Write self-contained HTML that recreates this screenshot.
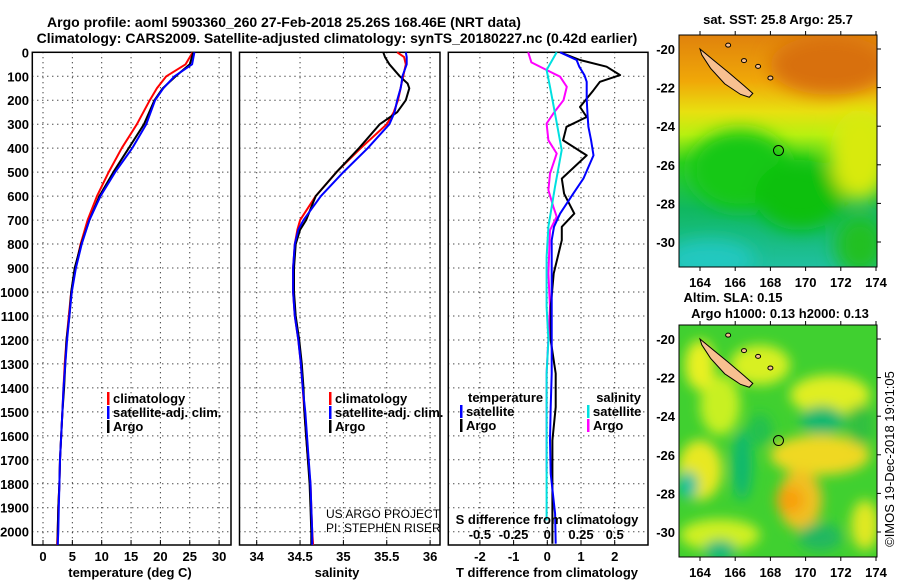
<!DOCTYPE html>
<html><head><meta charset="utf-8"><style>
html,body{margin:0;padding:0;background:#fff;}
svg{display:block;font-family:"Liberation Sans",Arial,sans-serif;}
.t{font-weight:bold;font-size:13px;fill:#000;}
</style></head><body>
<svg id="chart" width="900" height="580" viewBox="0 0 900 580" xmlns="http://www.w3.org/2000/svg">
<defs>
<filter id="blur8" x="-50%" y="-50%" width="200%" height="200%"><feGaussianBlur stdDeviation="9"/></filter>
<filter id="blur5" x="-50%" y="-50%" width="200%" height="200%"><feGaussianBlur stdDeviation="6"/></filter>
<clipPath id="clipTop"><rect x="679" y="35" width="198" height="232"/></clipPath>
<clipPath id="clipBot"><rect x="679" y="325" width="198" height="232"/></clipPath>
<linearGradient id="sstGrad" x1="0" y1="0" x2="0" y2="1">
<stop offset="0" stop-color="#e0820c"/><stop offset="0.2" stop-color="#f0a808"/><stop offset="0.33" stop-color="#e8e010"/><stop offset="0.43" stop-color="#b8f010"/><stop offset="0.55" stop-color="#30d020"/><stop offset="0.75" stop-color="#10b860"/><stop offset="1" stop-color="#20c0a0"/>
</linearGradient>
</defs>
<g id="titles">
<text x="284" y="27" text-anchor="middle" style="font-weight:bold;font-size:14px">Argo profile: aoml 5903360_260 27-Feb-2018 25.26S 168.46E (NRT data)</text>
<text x="337" y="43" text-anchor="middle" style="font-weight:bold;font-size:14px">Climatology: CARS2009. Satellite-adjusted climatology: synTS_20180227.nc (0.42d earlier)</text>
</g>
<g id="plots"></g>
<g id="maps"></g>
</svg>
<script>
// ---------- data ----------
const depthsT = [0,50,100,150,200,300,400,500,600,700,800,900,1000,1100,1200,1300,1400,1500,1600,1700,1800,1900,2000,2055];
const tempClim = [25.5,24.3,21.0,19.4,18.2,16.0,13.4,11.2,9.2,7.6,6.4,5.5,4.8,4.4,4.0,3.7,3.5,3.3,3.1,2.9,2.8,2.6,2.5,2.4];
const tempSat  = [25.8,25.4,22.4,20.5,19.1,17.6,15.2,12.3,9.8,7.9,6.6,5.6,4.9,4.5,4.1,3.8,3.5,3.3,3.1,2.9,2.8,2.7,2.6,2.5];
const tempArgo = [25.6,25.0,22.6,20.4,19.0,17.2,14.6,12.0,9.6,7.9,6.5,5.4,4.8,4.5,4.0,3.8,3.6,3.3,3.1,2.9,2.8,2.6,2.5,2.5];

const depthsS = [0,20,50,100,130,150,200,250,300,400,500,600,700,740,800,900,1000,1100,1200,1300,1400,1500,1600,1700,1800,1900,2000,2055];
const salClim = [35.62,35.70,35.72,35.69,35.67,35.66,35.63,35.58,35.50,35.20,34.92,34.68,34.50,34.47,34.44,34.42,34.42,34.44,34.48,34.51,34.53,34.55,34.57,34.59,34.62,34.63,34.64,34.65];
const salSat  = [35.72,35.73,35.73,35.68,35.67,35.66,35.62,35.59,35.53,35.28,35.00,34.74,34.54,34.48,34.44,34.42,34.42,34.44,34.48,34.51,34.53,34.56,34.58,34.60,34.62,34.63,34.64,34.64];
const salArgo = [35.46,35.48,35.53,35.65,35.74,35.76,35.72,35.62,35.42,35.18,34.92,34.68,34.57,34.50,34.45,34.43,34.43,34.45,34.49,34.52,34.54,34.55,34.57,34.59,34.61,34.62,34.63,34.63];

const diffDepths = [0,32,60,95,123,158,193,228,270,311,367,430,527,590,673,728,784,923,1062,1201,1340,1480,1619,1758,1925,2050];
const dTempArgo  = [0.38,0.97,1.76,2.16,1.56,1.37,1.17,0.97,1.17,0.57,0.47,1.17,0.43,0.5,0.8,0.43,0.43,0.19,0.1,0.1,0.25,0.25,0.15,0.15,0.15,0.15];
const dTempSat   = [0.38,0.87,0.95,1.1,1.17,1.17,1.17,1.18,1.2,1.22,1.3,1.37,1.07,0.77,0.38,0.2,0.13,0.13,0.13,0.13,0.13,0.1,0.08,0.1,0.23,0.25];
const sDiffDepths = [0,74,144,255,408,561,728,853,1062,1201,1340,1758,1953];
const dSalSat = [0.07,-0.005,0.02,0.057,0.107,0.057,0.008,-0.005,-0.005,0.008,-0.005,-0.005,-0.005];
const sArgoDepths = [0,42,74,102,144,200,255,297,367,422,506,575,645,686,742,923,1062,1340,1480,1619,1750];
const dSalArgo = [-0.142,-0.118,-0.005,0.095,0.145,0.12,0.045,-0.005,0.008,0.07,0.02,0.008,0.045,0.07,0.02,0.008,0.02,-0.005,-0.005,-0.005,-0.005];

const depthTicks = [0,100,200,300,400,500,600,700,800,900,1000,1100,1200,1300,1400,1500,1600,1700,1800,1900,2000];
const tempTicks = [0,5,10,15,20,25,30];
const salTicks = [34,34.5,35,35.5,36];
const salTickLabels = ['34','34.5','35','35.5','36'];
const tdTicks = [-2,-1,0,1,2];
const sdTicks = [-0.5,-0.25,0,0.25,0.5];
const sdTickLabels = ['-0.5','-0.25','0','0.25','0.5'];
const lonTicks = [164,166,168,170,172,174];
const latTicks = [-20,-22,-24,-26,-28,-30];

// ---------- helpers ----------
const NS='http://www.w3.org/2000/svg';
function mk(tag, attrs, parent){const e=document.createElementNS(NS,tag);for(const k in attrs)e.setAttribute(k,attrs[k]);parent.appendChild(e);return e;}
const plots=document.getElementById('plots');
const Y0=52.3, YS=0.2397, YB=545;
const yD = d => Y0 + d*YS;

function panel(name,x0,x1,xf,xticks,xlabels,showDepthLabels){
  const g=mk('g',{},plots);
  
  
  xticks.forEach(v=>{const l=mk('line',{x1:xf(v),x2:xf(v),y1:Y0,y2:YB,stroke:'#000','stroke-width':1,'stroke-dasharray':'1 4'},g);
    
    });
  depthTicks.forEach(d=>{if(d===0)return;const l=mk('line',{x1:x0,x2:x1,y1:yD(d),y2:yD(d),stroke:'#000','stroke-width':1,'stroke-dasharray':'1 4'},g);
    
    });
  const r=mk('rect',{x:x0,y:Y0,width:x1-x0,height:YB-Y0,fill:'none',stroke:'#000','stroke-width':1.5},g);
  
  
  if(xlabels){xticks.forEach((v,i)=>{
    mk('line',{x1:xf(v),x2:xf(v),y1:YB,y2:YB-5,stroke:'#000'},g);
    const t=mk('text',{x:xf(v),y:561,'text-anchor':'middle',class:'t'},g);t.textContent=xlabels[i];
    
    });}
  if(showDepthLabels){depthTicks.forEach(d=>{const t=mk('text',{x:29,y:yD(d)+5,'text-anchor':'end',class:'t'},g);t.textContent=d;
    
    });}
  return g;
}
function line(g,xs,ds,xf,color,name,w){
  const p=xs.map((v,i)=>(i?'L':'M')+xf(v).toFixed(1)+','+yD(ds[i]).toFixed(1)).join('');
  const e=mk('path',{d:p,fill:'none',stroke:color,'stroke-width':w||2,'stroke-linejoin':'round'},g);
  
  
}
function txt(g,x,y,s,name,opts){const t=mk('text',Object.assign({x:x,y:y,class:'t'},opts||{}),g);t.textContent=s;
  
  return t;}
function legend(g,x,y,color,label,name){
  const m=mk('rect',{x:x,y:y-11,width:2.5,height:13,fill:color},g);
  
  
  txt(g,x+6,y,label,name);
}

// ---------- panel 1: temperature ----------
const xT = v => 43 + v*5.87;
const g1=panel('temperature-panel',32.3,231,xT,tempTicks,tempTicks.map(String),true);
line(g1,tempClim,depthsT,xT,'#ff0000','temp-climatology-line');
line(g1,tempArgo,depthsT,xT,'#000000','temp-argo-line');
line(g1,tempSat,depthsT,xT,'#0000ff','temp-satellite-line');
legend(g1,107,403,'#ff0000','climatology','legend-climatology');
legend(g1,107,417,'#0000ff','satellite-adj. clim.','legend-satellite-adj');
legend(g1,107,431,'#000','Argo','legend-argo');
txt(g1,130,577,'temperature (deg C)','x-axis-title-temperature',{'text-anchor':'middle'});

// ---------- panel 2: salinity ----------
const xS = v => 256.7 + (v-34)*86.7;
const g2=panel('salinity-panel',239.5,440,xS,salTicks,salTickLabels,false);
line(g2,salClim,depthsS,xS,'#ff0000','sal-climatology-line');
line(g2,salArgo,depthsS,xS,'#000000','sal-argo-line');
line(g2,salSat,depthsS,xS,'#0000ff','sal-satellite-line');
legend(g2,329,403,'#ff0000','climatology','legend-climatology-sal');
legend(g2,329,417,'#0000ff','satellite-adj. clim.','legend-satellite-adj-sal');
legend(g2,329,431,'#000','Argo','legend-argo-sal');
txt(g2,326,518,'US ARGO PROJECT','credit-project',{style:'font-weight:normal;font-size:12px'});
txt(g2,326,532,'PI: STEPHEN RISER','credit-pi',{style:'font-weight:normal;font-size:12px'});
txt(g2,337,577,'salinity','x-axis-title-salinity',{'text-anchor':'middle'});

// ---------- panel 3: differences ----------
const xD = v => 547.3 + v*33.7;
const xSD = v => xD(v*4);
const g3=panel('difference-panel',448.3,648,xD,tdTicks,tdTicks.map(String),false);
line(g3,dSalArgo,sArgoDepths,xSD,'#ff00ff','sal-diff-argo-line');
line(g3,dSalSat,sDiffDepths,xSD,'#00e0e0','sal-diff-satellite-line');
line(g3,dTempArgo,diffDepths,xD,'#000000','temp-diff-argo-line');
line(g3,dTempSat,diffDepths,xD,'#0000ff','temp-diff-satellite-line');
txt(g3,468,402,'temperature','legend-temperature-heading');
legend(g3,460,416,'#0000ff','satellite','legend-temp-satellite');
legend(g3,460,430,'#000','Argo','legend-temp-argo');
txt(g3,641,402,'salinity','legend-salinity-heading',{'text-anchor':'end'});
legend(g3,587,416,'#00e0e0','satellite','legend-sal-satellite');
legend(g3,587,430,'#ff00ff','Argo','legend-sal-argo');
txt(g3,547,524,'S difference from climatology','s-diff-axis-title',{'text-anchor':'middle'});
sdTicks.forEach((v,i)=>txt(g3,xSD(v),539,sdTickLabels[i],'s-diff-tick-label',{'text-anchor':'middle'}));
txt(g3,547,577,'T difference from climatology','t-diff-axis-title',{'text-anchor':'middle'});

// ---------- maps ----------
const maps=document.getElementById('maps');
const lonX = v => 700 + (v-164)*17.6;
function drawMap(name,top,clip,isSST){
  const g=mk('g',{},maps);
  
  
  const latY = v => top + 14 + (-20 - v)*19.3;
  const c=mk('g',{'clip-path':'url(#'+clip+')'},g);
  if(isSST){
    mk('rect',{x:679,y:top,width:198,height:232,fill:'url(#sstGrad)'},c);
    const b=mk('g',{filter:'url(#blur8)'},c);
    mk('ellipse',{cx:740,cy:top+135,rx:50,ry:40,fill:'#18c818'},b);
    mk('ellipse',{cx:800,cy:top+160,rx:45,ry:35,fill:'#10c010'},b);
    mk('ellipse',{cx:860,cy:top+120,rx:30,ry:45,fill:'#d8ea10'},b);
    mk('ellipse',{cx:830,cy:top+30,rx:60,ry:30,fill:'#d87008'},b);
    mk('ellipse',{cx:710,cy:top+225,rx:45,ry:20,fill:'#20c8c0'},b);
    mk('ellipse',{cx:860,cy:top+210,rx:25,ry:30,fill:'#20c020'},b);
  } else {
    mk('rect',{x:679,y:top,width:198,height:232,fill:'#40d030'},c);
    const b=mk('g',{filter:'url(#blur5)'},c);
    [[760,top+40,30,20,'#d8f020'],[720,top+80,20,30,'#c8f020'],[700,top+145,22,30,'#e8e820'],[830,top+70,40,20,'#e0ee20'],[820,top+130,50,20,'#f0d820'],
     [800,top+175,22,30,'#f0c020'],[790,top+175,14,14,'#f8a010'],[720,top+210,40,16,'#d0f020'],[865,top+200,14,25,'#e0e820'],[700,top+40,15,25,'#e8f020']].forEach(a=>mk('ellipse',{cx:a[0],cy:a[1],rx:a[2],ry:a[3],fill:a[4]},b));
    [[822,top+95,22,14,'#10b870'],[742,top+140,10,35,'#10b870'],[688,top+160,10,14,'#10c0a0'],[720,top+225,16,10,'#10b880'],[760,top+105,12,16,'#20c050'],[820,top+212,22,14,'#20b860'],[860,top+100,14,20,'#30c040']].forEach(a=>mk('ellipse',{cx:a[0],cy:a[1],rx:a[2],ry:a[3],fill:a[4]},b));
  }
  const isl=mk('polygon',{points:[[164.0,-20.0],[164.8,-20.6],[165.6,-21.2],[166.5,-21.9],[167.0,-22.3],[166.8,-22.5],[166.3,-22.35],[165.4,-21.8],[164.6,-21.0],[164.1,-20.3]].map(p=>lonX(p[0])+','+latY(p[1])).join(' '),fill:'#f8c090',stroke:'#000','stroke-width':1},c);
  
  
  [[165.6,-19.8],[166.5,-20.6],[167.3,-20.9],[168.0,-21.5]].forEach(p=>{const e=mk('ellipse',{cx:lonX(p[0]),cy:latY(p[1]),rx:2.5,ry:2,fill:'#f8c090',stroke:'#000'},c);
    
    });
  const ring=mk('circle',{cx:lonX(168.46),cy:latY(-25.26),r:5,fill:'none',stroke:'#000','stroke-width':1},g);
  
  
  const fr=mk('rect',{x:679,y:top,width:198,height:232,fill:'none',stroke:'#000','stroke-width':1},g);
  
  
  lonTicks.forEach(v=>{mk('line',{x1:lonX(v),x2:lonX(v),y1:top,y2:top-4,stroke:'#000'},g);
    mk('line',{x1:lonX(v),x2:lonX(v),y1:top+232,y2:top+236,stroke:'#000'},g);
    txt(g,lonX(v),top+252,String(v),'map-lon-tick-label',{'text-anchor':'middle'});});
  latTicks.forEach(v=>{mk('line',{x1:877,x2:881,y1:latY(v),y2:latY(v),stroke:'#000'},g);
    txt(g,675,latY(v)+5,String(v),'map-lat-tick-label',{'text-anchor':'end'});});
}
drawMap('sst-map',35,'clipTop',true);
drawMap('sla-map',325,'clipBot',false);
const mg=maps;
txt(mg,778,24,'sat. SST: 25.8 Argo: 25.7','sst-map-title',{'text-anchor':'middle'});
txt(mg,733,302,'Altim. SLA: 0.15','sla-map-title',{'text-anchor':'middle'});
txt(mg,780,318,'Argo h1000: 0.13 h2000: 0.13','argo-height-title',{'text-anchor':'middle'});
txt(mg,0,0,'\u00a9IMOS 19-Dec-2018 19:01:05','imos-timestamp',{transform:'translate(894,459) rotate(-90)','text-anchor':'middle',style:'font-weight:normal'});
</script>
</body></html>
